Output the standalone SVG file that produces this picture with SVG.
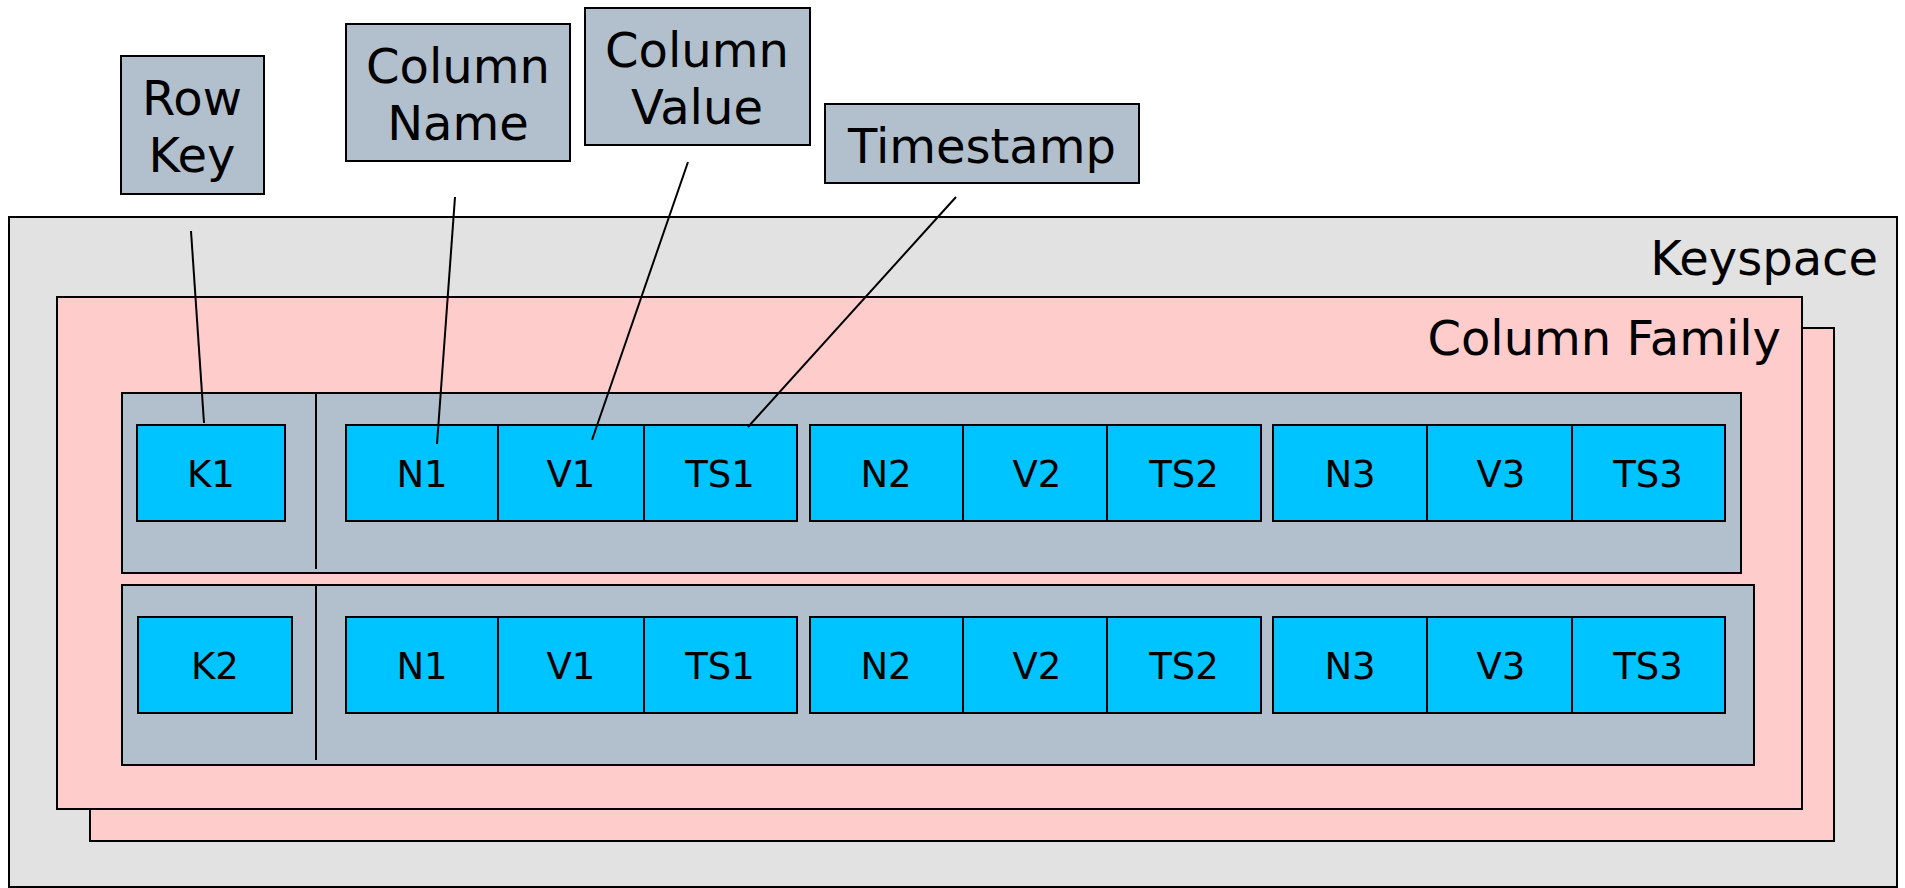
<svg xmlns="http://www.w3.org/2000/svg" width="1905" height="888" viewBox="0 0 1905 888">
<style>
.box{stroke:#000;stroke-width:2}
.ks{fill:#e2e2e2}
.cf{fill:#ffcccc}
.row{fill:#b2bfcc}
.cell{fill:#00c4ff;stroke:#000;stroke-width:2}
.lbl{fill:#b2bfcc;stroke:#000;stroke-width:2}
text{font-family:"DejaVu Sans","Liberation Sans",sans-serif;fill:#000}
.big{font-size:48px}
.ct{font-size:37px;text-anchor:middle}
.mid{text-anchor:middle}
.conn line{stroke:#000;stroke-width:2}
</style>
<rect width="1905" height="888" fill="#fff"/>
<g id="keyspace">
<rect class="box ks" x="9" y="217" width="1888" height="670"/>
<text class="big" x="1878" y="275" text-anchor="end">Keyspace</text>
</g>
<g id="column-family-back">
<rect class="box cf" x="90" y="328" width="1744" height="513"/>
</g>
<g id="column-family">
<rect class="box cf" x="57" y="297" width="1745" height="512"/>
<text class="big" x="1781" y="355" text-anchor="end">Column Family</text>
</g>
<g id="row1">
<rect class="box row" x="122" y="393" width="1619" height="180"/>
<line x1="316" y1="393" x2="316" y2="569" stroke="#000" stroke-width="2"/>
<rect class="cell" x="137" y="425" width="148" height="96"/><text class="ct" x="211" y="487">K1</text>
<rect class="cell" x="346" y="425" width="152" height="96"/><text class="ct" x="422" y="487">N1</text>
<rect class="cell" x="498" y="425" width="146" height="96"/><text class="ct" x="571" y="487">V1</text>
<rect class="cell" x="644" y="425" width="153" height="96"/><text class="ct" x="720" y="487">TS1</text>
<rect class="cell" x="810" y="425" width="153" height="96"/><text class="ct" x="886" y="487">N2</text>
<rect class="cell" x="963" y="425" width="144" height="96"/><text class="ct" x="1037" y="487">V2</text>
<rect class="cell" x="1107" y="425" width="154" height="96"/><text class="ct" x="1184" y="487">TS2</text>
<rect class="cell" x="1273" y="425" width="154" height="96"/><text class="ct" x="1350" y="487">N3</text>
<rect class="cell" x="1427" y="425" width="145" height="96"/><text class="ct" x="1501" y="487">V3</text>
<rect class="cell" x="1572" y="425" width="153" height="96"/><text class="ct" x="1648" y="487">TS3</text>
</g>
<g id="row2">
<rect class="box row" x="122" y="585" width="1632" height="180"/>
<line x1="316" y1="585" x2="316" y2="760" stroke="#000" stroke-width="2"/>
<rect class="cell" x="138" y="617" width="154" height="96"/><text class="ct" x="215" y="679">K2</text>
<rect class="cell" x="346" y="617" width="152" height="96"/><text class="ct" x="422" y="679">N1</text>
<rect class="cell" x="498" y="617" width="146" height="96"/><text class="ct" x="571" y="679">V1</text>
<rect class="cell" x="644" y="617" width="153" height="96"/><text class="ct" x="720" y="679">TS1</text>
<rect class="cell" x="810" y="617" width="153" height="96"/><text class="ct" x="886" y="679">N2</text>
<rect class="cell" x="963" y="617" width="144" height="96"/><text class="ct" x="1037" y="679">V2</text>
<rect class="cell" x="1107" y="617" width="154" height="96"/><text class="ct" x="1184" y="679">TS2</text>
<rect class="cell" x="1273" y="617" width="154" height="96"/><text class="ct" x="1350" y="679">N3</text>
<rect class="cell" x="1427" y="617" width="145" height="96"/><text class="ct" x="1501" y="679">V3</text>
<rect class="cell" x="1572" y="617" width="153" height="96"/><text class="ct" x="1648" y="679">TS3</text>
</g>
<g id="label-row-key">
<rect class="lbl" x="121" y="56" width="143" height="138"/>
<text class="big mid" x="192" y="115">Row</text>
<text class="big mid" x="192" y="172">Key</text>
</g>
<g id="label-column-name">
<rect class="lbl" x="346" y="24" width="224" height="137"/>
<text class="big mid" x="458" y="83">Column</text>
<text class="big mid" x="458" y="140">Name</text>
</g>
<g id="label-column-value">
<rect class="lbl" x="585" y="8" width="225" height="137"/>
<text class="big mid" x="697" y="67">Column</text>
<text class="big mid" x="697" y="124">Value</text>
</g>
<g id="label-timestamp">
<rect class="lbl" x="825" y="104" width="314" height="79"/>
<text class="big mid" x="982" y="163">Timestamp</text>
</g>
<g id="connectors" class="conn">
<line x1="191" y1="231" x2="204" y2="423"/>
<line x1="455" y1="197" x2="437" y2="444"/>
<line x1="688" y1="162" x2="592" y2="440"/>
<line x1="956" y1="197" x2="748" y2="427"/>
</g>
</svg>
